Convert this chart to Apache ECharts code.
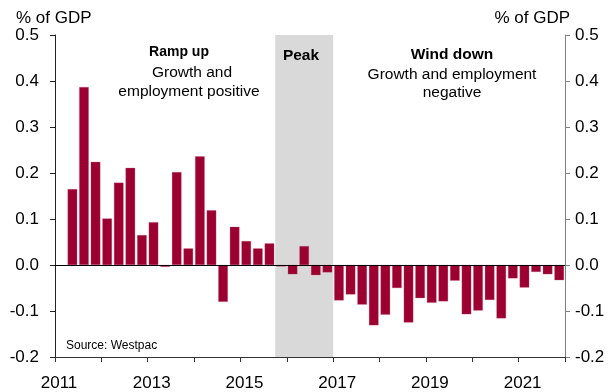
<!DOCTYPE html>
<html><head><meta charset="utf-8">
<script src="https://cdn.jsdelivr.net/npm/echarts@6/dist/echarts.min.js"></script>
<style>html,body{margin:0;padding:0;background:#fff}#c{width:612px;height:392px}</style>
</head><body><div id="c"></div>
<script>
// Quarterly data, 2011Q1 .. 2021Q4 (first quarter has no value)
const startYear = 2011;
const quarters = [];
for (let y = 2011; y <= 2021; y++) for (let q = 1; q <= 4; q++) quarters.push(y + 'Q' + q);
const values = [null, 0.165, 0.387, 0.224, 0.101, 0.179, 0.211, 0.065, 0.093, -0.004,
  0.202, 0.036, 0.236, 0.119, -0.080, 0.083, 0.052, 0.036, 0.047, -0.003,
  -0.020, 0.041, -0.022, -0.016, -0.077, -0.064, -0.086, -0.131, -0.108, -0.050,
  -0.125, -0.072, -0.082, -0.079, -0.034, -0.107, -0.099, -0.076, -0.116, -0.029,
  -0.049, -0.015, -0.020, -0.033];
const peakRange = [2015.75, 2017];
const yTicks = { min: -0.2, max: 0.5, interval: 0.1 };
const xTicks = { min: 2011, max: 2022, interval: 1 };
const yAxisTitle = '% of GDP';
const source = 'Source: Westpac';

const barData = quarters.map((q, i) => {
  const yr = parseInt(q.slice(0, 4)), qn = parseInt(q.slice(5));
  return [yr + (qn - 0.5) / 4, values[i]];
});

const FONT = 'Liberation Sans, Arial, sans-serif';
const chart = echarts.init(document.getElementById('c'), null, { renderer: 'canvas' });
const yAxisBase = (pos, lineColor, margin) => ({
  type: 'value', position: pos, min: yTicks.min, max: yTicks.max, interval: yTicks.interval,
  axisLine: { show: true, lineStyle: { color: lineColor, width: 1 } },
  axisTick: { show: true, inside: false, length: 5, lineStyle: { color: lineColor } },
  axisLabel: { show: true, margin: margin, fontSize: 17, color: '#000', fontFamily: FONT,
    formatter: v => Number(v).toFixed(1) },
  splitLine: { show: false }
});
const txt = (x, y, text, font, align) => ({
  type: 'text', x: x, y: y, z: 100, zlevel: 0,
  style: { text: text, font: font, fill: '#000', align: align || 'center', verticalAlign: 'middle' }
});
chart.setOption({
  animation: false,
  backgroundColor: '#fff',
  grid: { left: 55, right: 47, top: 35, bottom: 35, containLabel: false },
  xAxis: {
    type: 'value', min: xTicks.min, max: xTicks.max, interval: xTicks.interval,
    axisLine: { show: true, onZero: false, lineStyle: { color: '#333' } },
    axisTick: { show: true, inside: false, length: 5, lineStyle: { color: '#333' } },
    axisLabel: { show: true, margin: 18, fontSize: 17, color: '#000', fontFamily: FONT, padding: [0, 0, 0, 8],
      formatter: v => (Math.round(v) % 2 === 1 && v < xTicks.max) ? String(Math.round(v)) : '' },
    splitLine: { show: false }
  },
  yAxis: [yAxisBase('left', '#222', 16), yAxisBase('right', '#808080', 10)],
  series: [
    {
      type: 'line', data: [], z: 1, silent: true,
      markArea: { silent: true, itemStyle: { color: '#d9d9d9' },
        data: [[{ xAxis: peakRange[0] }, { xAxis: peakRange[1] }]] }
    },
    {
      type: 'bar', data: barData, barWidth: 9.5, z: 3,
      itemStyle: { color: '#9c0030', borderColor: '#c06080', borderWidth: 0.3 },
      markLine: { silent: true, symbol: 'none', label: { show: false },
        lineStyle: { color: '#000', width: 1, type: 'solid' }, data: [{ yAxis: 0 }] }
    }
  ],
  graphic: [
    txt(16, 18, yAxisTitle, '17px ' + FONT, 'left'),
    txt(570, 18, yAxisTitle, '17px ' + FONT, 'right'),
    txt(179, 52, 'Ramp up', 'bold 14px ' + FONT),
    txt(192, 73, 'Growth and', '15.5px ' + FONT),
    txt(189, 92, 'employment positive', '15.5px ' + FONT),
    txt(301, 56, 'Peak', 'bold 15.5px ' + FONT),
    txt(452, 55, 'Wind down', 'bold 15.5px ' + FONT),
    txt(452, 75, 'Growth and employment', '15.5px ' + FONT),
    txt(452, 93, 'negative', '15.5px ' + FONT),
    txt(66, 346, source, '12px ' + FONT, 'left')
  ]
});
</script></body></html>
